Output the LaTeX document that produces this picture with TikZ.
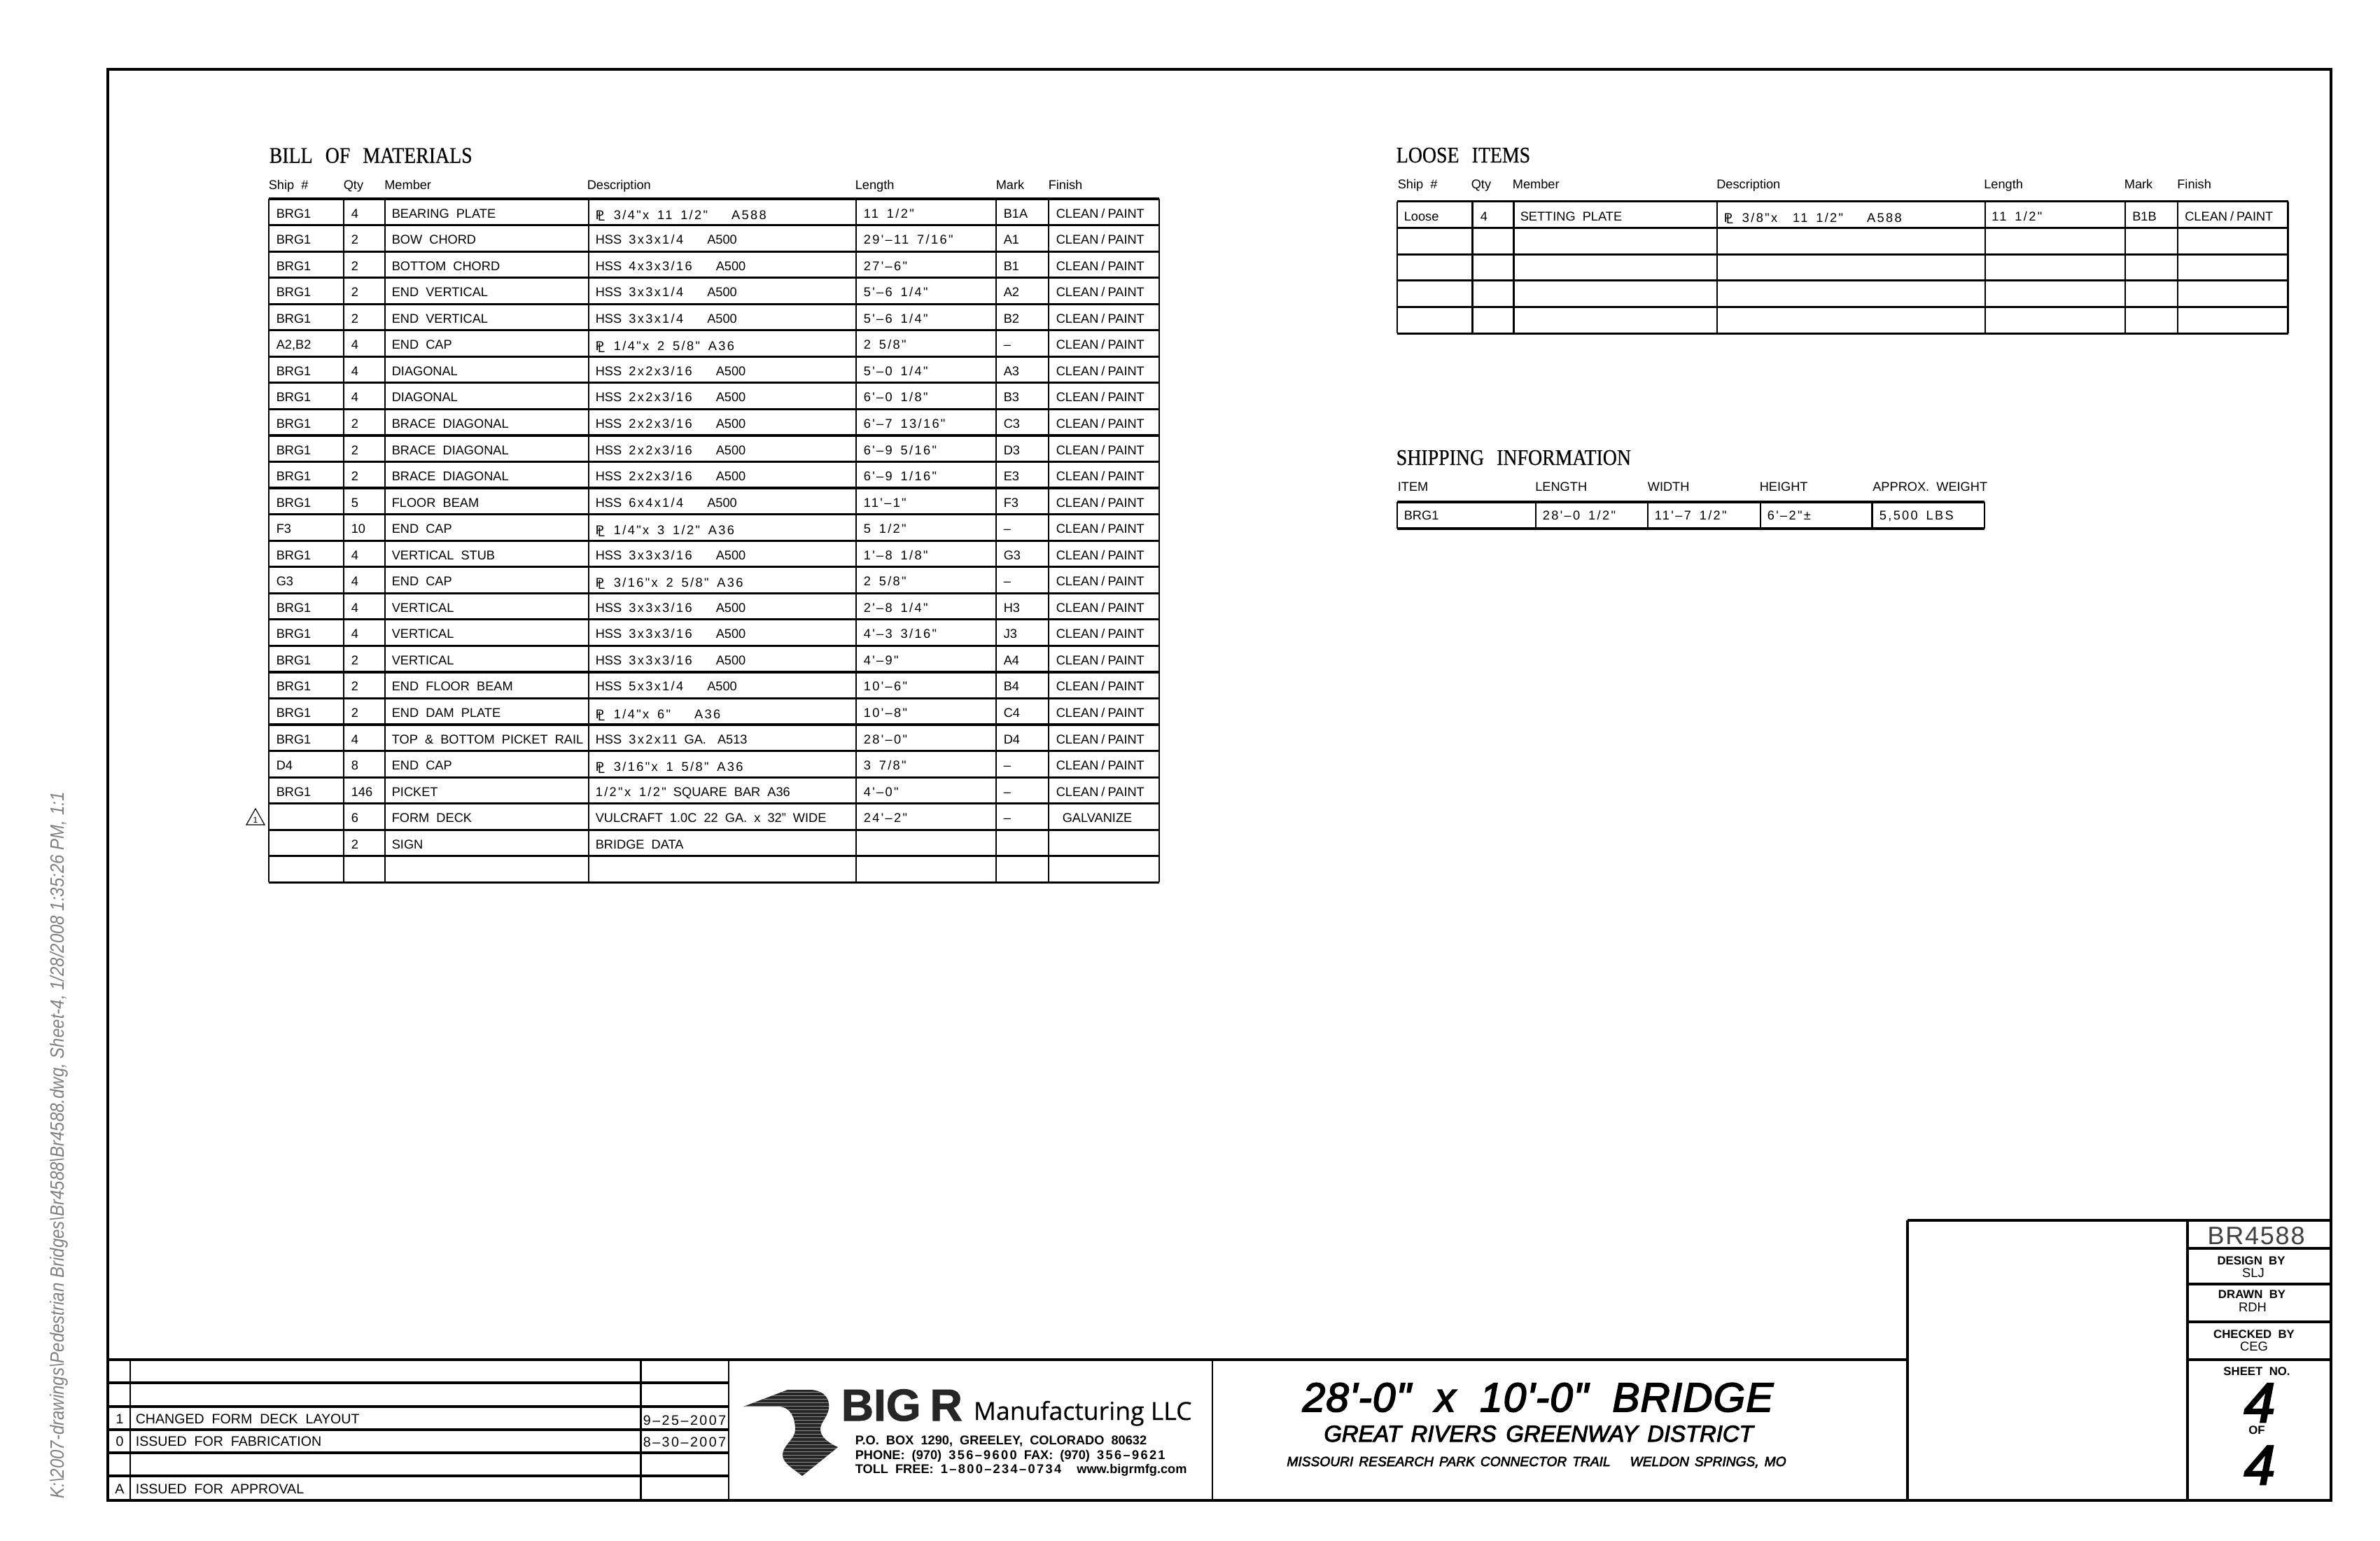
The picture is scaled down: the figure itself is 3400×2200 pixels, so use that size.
\documentclass[tikz,border=0pt]{standalone}
\usepackage{fontspec}
\setmainfont{Liberation Sans}[WordSpace=2]
\newfontfamily\titlefont{Liberation Serif}[FakeStretch=.87,WordSpace=2.6,FakeBold=.4]
\newfontfamily\logofont{Open Sans}[FakeBold=.3]
\newfontfamily\sidefont{Liberation Sans}[FakeStretch=.87]
\newfontfamily\digitfont{Liberation Sans}[WordSpace=1.6,LetterSpace=13]
\newfontfamily\jobfont{Liberation Sans}[LetterSpace=5]
\newfontfamily\bigrfont{Liberation Sans}[BoldFeatures={FakeBold=1.5}]
\newfontfamily\headfont{Liberation Sans Italic}[WordSpace=2,LetterSpace=2,FakeBold=3]
\newfontfamily\subheadfont{Liberation Sans Italic}[WordSpace=1.5,FakeBold=3]

% sizes are given in pt, one pixel of the sheet is 0.25pt
\newcommand{\wgap}{\hspace{8.5pt}}
\newcommand{\plate}[1]{\lower.5pt\hbox{\rlap{P}\raisebox{-.7pt}{\kern.8pt L}\kern3.2pt{\digitfont #1}}}
\newcommand{\tube}[2]{HSS {\digitfont #1}\wgap #2}
\newcommand{\cleanpaint}{CLEAN\kern1pt/\kern1pt PAINT}

\tikzset{
  cell/.style={anchor=base west,inner sep=0pt,font=\fontsize{4.55pt}{5pt}\selectfont},
  revtext/.style={cell,font=\fontsize{4.9pt}{5.5pt}\selectfont},
  boxtitle/.style={anchor=base west,inner sep=0pt,font=\titlefont\fontsize{8pt}{9pt}\selectfont},
  smalllabel/.style={anchor=base,inner sep=0pt,font=\bfseries\fontsize{4.2pt}{5pt}\selectfont},
  initials/.style={anchor=base,inner sep=0pt,font=\fontsize{4.6pt}{5pt}\selectfont},
  bighead/.style={anchor=base,inner sep=0pt},
  address/.style={anchor=base west,inner sep=0pt,font=\bfseries\fontsize{4.55pt}{5pt}\selectfont},
  hline/.style={line width=.8pt},
  vline/.style={line width=.55pt},
  frameline/.style={line width=1.2pt},
}

\newcommand{\bomship}[2]{\node[cell] (ship#1) at (394,284+37.55*#1-10.5) {#2};}
\newcommand{\bommid}[4]{
  \node[cell] (qty#1) at (501,284+37.55*#1-10.5) {#2};
  \node[cell] (member#1) at (559,284+37.55*#1-10.5) {#3};
  \node[cell] (desc#1) at (850,284+37.55*#1-10.5) {#4};
}
\newcommand{\bomend}[4]{
  \node[cell] (length#1) at (1233,284+37.55*#1-10.5) {\digitfont #2};
  \node[cell] (mark#1) at (1433,284+37.55*#1-10.5) {#3};
  \node[cell] (finish#1) at (1508,284+37.55*#1-10.5) {#4};
}
\newcommand{\bomrow}[7]{
  \bomship{#1}{#2}
  \bommid{#1}{#3}{#4}{#5}
  \bomend{#1}{#6}{#7}{\cleanpaint}
}

\begin{document}
\begin{tikzpicture}[x=0.25pt,y=-0.25pt]
  \useasboundingbox (0,0) rectangle (3400,2200);

  % sheet frame and title block
  \draw [frameline] (154,99) rectangle (3330,2143);
  \draw [frameline] (155,1942) -- (2725,1942);
  \draw [frameline] (2725,1743) -- (3330,1743);
  \draw [frameline] (2725,1743) -- (2725,2143);
  \draw [frameline] (3125,1743) -- (3125,2143);
  \foreach \y in {1783,1834,1888,1942}
    \draw [hline,line width=1pt] (3125,\y) -- (3330,\y);
  \foreach \y in {1975,2009,2042,2075,2108}
    \draw [hline,line width=1pt] (155,\y) -- (1041,\y);
  \foreach \x in {186,915.5,1041,1732}
    \draw [vline,line width=.7pt] (\x,1942) -- (\x,2143);

  % path of the plot file
  \node [rotate=90,anchor=base,inner sep=0pt,text=black!50,font=\sidefont\itshape\fontsize{6.9pt}{7pt}\selectfont] (plotpath) at (91,1636)
    {K:\textbackslash 2007-drawings\textbackslash Pedestrian Bridges\textbackslash Br4588\textbackslash Br4588.dwg, Sheet-4, 1/28/2008 1:35:26 PM, 1:1};

  % bill of materials
  \node [boxtitle] (bomtitle) at (384,232.5) {BILL OF MATERIALS};
  \foreach \x/\name/\txt in {383/hship/Ship \#,490/hqty/Qty,548.5/hmember/Member,838/hdesc/Description,1221/hlength/Length,1422/hmark/Mark,1497/hfinish/Finish}
    \node [cell] (\name) at (\x,270) {\txt};
  \foreach \y in {0,...,26}
    \draw [hline] (384,284+37.55*\y) -- (1656,284+37.55*\y);
  \foreach \x in {384,491,550,841,1223,1423,1498,1656}
    \draw [vline] (\x,284) -- (\x,1260.3);

  \bomrow{1}{BRG1}{4}{BEARING PLATE}{\plate{3/4"x 11 1/2"\wgap A588}}{11 1/2"}{B1A}
  \bomrow{2}{BRG1}{2}{BOW CHORD}{\tube{3x3x1/4}{A500}}{29'–11 7/16"}{A1}
  \bomrow{3}{BRG1}{2}{BOTTOM CHORD}{\tube{4x3x3/16}{A500}}{27'–6"}{B1}
  \bomrow{4}{BRG1}{2}{END VERTICAL}{\tube{3x3x1/4}{A500}}{5'–6 1/4"}{A2}
  \bomrow{5}{BRG1}{2}{END VERTICAL}{\tube{3x3x1/4}{A500}}{5'–6 1/4"}{B2}
  \bomrow{6}{A2,B2}{4}{END CAP}{\plate{1/4"x 2 5/8" A36}}{2 5/8"}{--}
  \bomrow{7}{BRG1}{4}{DIAGONAL}{\tube{2x2x3/16}{A500}}{5'–0 1/4"}{A3}
  \bomrow{8}{BRG1}{4}{DIAGONAL}{\tube{2x2x3/16}{A500}}{6'–0 1/8"}{B3}
  \bomrow{9}{BRG1}{2}{BRACE DIAGONAL}{\tube{2x2x3/16}{A500}}{6'–7 13/16"}{C3}
  \bomrow{10}{BRG1}{2}{BRACE DIAGONAL}{\tube{2x2x3/16}{A500}}{6'–9 5/16"}{D3}
  \bomrow{11}{BRG1}{2}{BRACE DIAGONAL}{\tube{2x2x3/16}{A500}}{6'–9 1/16"}{E3}
  \bomrow{12}{BRG1}{5}{FLOOR BEAM}{\tube{6x4x1/4}{A500}}{11'–1"}{F3}
  \bomrow{13}{F3}{10}{END CAP}{\plate{1/4"x 3 1/2" A36}}{5 1/2"}{--}
  \bomrow{14}{BRG1}{4}{VERTICAL STUB}{\tube{3x3x3/16}{A500}}{1'–8 1/8"}{G3}
  \bomrow{15}{G3}{4}{END CAP}{\plate{3/16"x 2 5/8" A36}}{2 5/8"}{--}
  \bomrow{16}{BRG1}{4}{VERTICAL}{\tube{3x3x3/16}{A500}}{2'–8 1/4"}{H3}
  \bomrow{17}{BRG1}{4}{VERTICAL}{\tube{3x3x3/16}{A500}}{4'–3 3/16"}{J3}
  \bomrow{18}{BRG1}{2}{VERTICAL}{\tube{3x3x3/16}{A500}}{4'–9"}{A4}
  \bomrow{19}{BRG1}{2}{END FLOOR BEAM}{\tube{5x3x1/4}{A500}}{10'–6"}{B4}
  \bomrow{20}{BRG1}{2}{END DAM PLATE}{\plate{1/4"x 6"\wgap A36}}{10'–8"}{C4}
  \bomrow{21}{BRG1}{4}{TOP \& BOTTOM PICKET RAIL}{HSS {\digitfont 3x2x11} GA.\hspace{1.5pt} A513}{28'–0"}{D4}
  \bomrow{22}{D4}{8}{END CAP}{\plate{3/16"x 1 5/8" A36}}{3 7/8"}{--}
  \bomrow{23}{BRG1}{146}{PICKET}{{\digitfont 1/2"x 1/2"} SQUARE BAR A36}{4'–0"}{--}
  \bommid{24}{6}{FORM DECK}{VULCRAFT 1.0C 22 GA. x 32" WIDE}
  \bomend{24}{24'–2"}{--}{\kern2.25pt GALVANIZE}
  \bommid{25}{2}{SIGN}{BRIDGE DATA}

  % revision mark beside the form deck row
  \draw [line width=.3pt] (365,1155) -- (378,1178) -- (352,1178) -- cycle;
  \node [anchor=base,inner sep=0pt,font=\fontsize{3pt}{3pt}\selectfont] (revmark) at (365,1175) {1};

  % loose items
  \node [boxtitle] (loosetitle) at (1994,232) {LOOSE ITEMS};
  \foreach \x/\name/\txt in {1996/lship/Ship \#,2101/lqty/Qty,2160/lmember/Member,2451.5/ldesc/Description,2833.5/llength/Length,3034/lmark/Mark,3109.5/lfinish/Finish}
    \node [cell] (\name) at (\x,269) {\txt};
  \foreach \y in {0,...,5}
    \draw [hline] (1996,287.7+37.7*\y) -- (3268.5,287.7+37.7*\y);
  \foreach \x in {1996,2103.5,2162.5,2453,2836,3036,3111,3268.5}
    \draw [vline] (\x,287.7) -- (\x,476.2);
  \foreach \x/\name/\txt in {2005/lship1/Loose,2114/lqty1/4,2171/lmember1/SETTING PLATE,2462/ldesc1/{\plate{3/8"x\hspace{2.5pt} 11 1/2"\wgap A588}},2844.5/llength1/{\digitfont 11 1/2"},3045.5/lmark1/B1B,3120.5/lfinish1/{\cleanpaint}}
    \node [cell] (\name) at (\x,315) {\txt};

  % shipping information
  \node [boxtitle] (shiptitle) at (1994,664) {SHIPPING INFORMATION};
  \foreach \x/\name/\txt in {1996/sitem/ITEM,2192.5/slength/LENGTH,2353/swidth/WIDTH,2513/sheight/HEIGHT,2674.5/sweight/APPROX. WEIGHT}
    \node [cell] (\name) at (\x,701.5) {\txt};
  \foreach \y in {717,755}
    \draw [hline] (1996,\y) -- (2835,\y);
  \foreach \x in {1996,2194,2354,2515,2674.5,2835}
    \draw [vline] (\x,717) -- (\x,755);
  \foreach \x/\name/\txt in {2005/sitem1/BRG1,2203/slength1/{\digitfont 28'–0 1/2"},2363/swidth1/{\digitfont 11'–7 1/2"},2524/sheight1/{\digitfont 6'–2"±},2684/sweight1/{\digitfont 5,500 LBS}}
    \node [cell] (\name) at (\x,742.5) {\txt};

  % revisions
  \node [anchor=base,inner sep=0pt,font=\fontsize{4.9pt}{5pt}\selectfont] (rev1) at (171,2033) {1};
  \node [anchor=base,inner sep=0pt,font=\fontsize{4.9pt}{5pt}\selectfont] (rev0) at (171,2065) {0};
  \node [anchor=base,inner sep=0pt,font=\fontsize{4.9pt}{5pt}\selectfont] (revA) at (171,2133) {A};
  \node [revtext] (revtext1) at (193,2033) {CHANGED FORM DECK LAYOUT};
  \node [revtext] (revtext0) at (193,2065) {ISSUED FOR FABRICATION};
  \node [revtext] (revtextA) at (193,2133) {ISSUED FOR APPROVAL};
  \node [revtext] (revdate1) at (918,2035) {\digitfont 9–25–2007};
  \node [revtext] (revdate0) at (918,2066) {\digitfont 8–30–2007};

  % logo
  \begin{scope}
    \clip (1062,2009) -- (1125,1985) -- (1160,1985) .. controls (1178,1987) and (1186,1998) .. (1184,2012)
      .. controls (1182,2024) and (1172,2032) .. (1172,2041) .. controls (1172,2052) and (1182,2060) .. (1197,2067)
      -- (1146,2108) .. controls (1134,2098) and (1118,2090) .. (1118,2078) .. controls (1118,2064) and (1136,2056) .. (1136,2042)
      .. controls (1136,2026) and (1130,2009) .. (1112,2009) -- cycle;
    \fill [black!85] (1050,1980) rectangle (1200,2110);
    \foreach \y in {1988,1993,...,2108}
      \draw [black!45,line width=.25pt] (1050,\y) -- (1200,\y);
  \end{scope}
  \node [anchor=base west,inner sep=0pt,text=black!85,font=\bigrfont\bfseries\fontsize{16pt}{16pt}\selectfont] (bigr) at (1201,2029) {BIG\kern3.25pt R};
  \node [anchor=base west,inner sep=0pt,font=\logofont\fontsize{8.9pt}{9pt}\selectfont] (manuf) at (1390,2028) {Manufacturing LLC};
  \node [address] (addr1) at (1221,2063) {P.O. BOX 1290, GREELEY, COLORADO 80632};
  \node [address] (addr2) at (1221,2084) {PHONE: (970) {\digitfont 356–9600} FAX: (970) {\digitfont 356–9621}};
  \node [address] (addr3) at (1221,2104) {TOLL FREE: {\digitfont 1–800–234–0734}\hspace{3pt} www.bigrmfg.com};

  % bridge title
  \node [bighead,font=\headfont\fontsize{14.6pt}{16pt}\selectfont] (bridgetitle) at (2197,2016) {28'-0" x 10'-0" BRIDGE};
  \node [bighead,font=\subheadfont\fontsize{8.2pt}{10pt}\selectfont] (district) at (2198,2059) {GREAT RIVERS GREENWAY DISTRICT};
  \node [bighead,font=\subheadfont\fontsize{4.8pt}{6pt}\selectfont] (trail) at (2195,2094) {MISSOURI RESEARCH PARK CONNECTOR TRAIL\hspace{5pt} WELDON SPRINGS, MO};

  % job number and sign off
  \node [anchor=base,inner sep=0pt,text=black!75,font=\jobfont\fontsize{9pt}{10pt}\selectfont] (jobno) at (3223,1777) {BR4588};
  \node [smalllabel] (designby) at (3216,1806) {DESIGN BY};
  \node [initials] (designer) at (3219,1824) {SLJ};
  \node [smalllabel] (drawnby) at (3217,1854) {DRAWN BY};
  \node [initials] (drafter) at (3218,1873) {RDH};
  \node [smalllabel] (checkedby) at (3220,1911) {CHECKED BY};
  \node [initials] (checker) at (3220,1929) {CEG};
  \node [smalllabel] (sheetno) at (3224,1964) {SHEET NO.};
  \node [bighead,font=\headfont\fontsize{20pt}{22pt}\selectfont] (sheetfour) at (3228,2031) {4};
  \node [smalllabel] (sheetof) at (3224,2048) {OF};
  \node [bighead,font=\headfont\fontsize{20pt}{22pt}\selectfont] (sheettotal) at (3228,2120) {4};
\end{tikzpicture}
\end{document}
